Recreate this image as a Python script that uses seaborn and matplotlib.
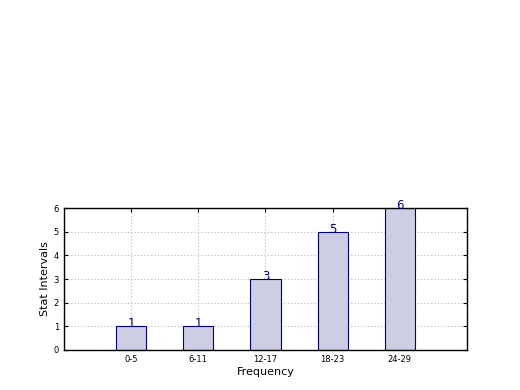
import matplotlib
matplotlib.use("Agg")
import matplotlib.pyplot as plt
import seaborn as sns
import pandas as pd

INTERVALS = ["0-5", "6-11", "12-17", "18-23", "24-29"]
COUNTS = [1, 1, 3, 5, 6]

BAR_FACE = "#cdcde3"
BAR_EDGE = "#000080"


def main():
    sns.set_style("ticks")
    plt.rcParams["font.family"] = ["DejaVu Sans"]
    plt.rcParams["text.color"] = "black"
    plt.rcParams["axes.labelcolor"] = "black"
    plt.rcParams["xtick.color"] = "black"
    plt.rcParams["ytick.color"] = "black"

    df = pd.DataFrame({"interval": INTERVALS, "count": COUNTS})

    fig = plt.figure(figsize=(5.2, 3.9), dpi=100)
    ax = fig.add_axes([0.123, 0.1026, 0.775, 0.364])

    sns.barplot(data=df, x="interval", y="count", width=0.45, color=BAR_FACE,
                saturation=1, edgecolor=BAR_EDGE, linewidth=0.8, ax=ax, zorder=2)

    for i, v in enumerate(df["count"]):
        ax.text(i, v - 0.04, str(v), ha="center", va="baseline", color=BAR_EDGE,
                fontsize=8.5, zorder=3)

    ax.set_xlim(-1, 5)
    ax.set_ylim(0, 6)
    ax.set_yticks(range(0, 7))
    ax.grid(True, linestyle=(0, (1, 2)), color="#b8b8b8", linewidth=0.8, zorder=0)
    ax.set_axisbelow(True)
    ax.tick_params(direction="in", labelsize=6, length=3, top=True, right=True)
    for spine in ax.spines.values():
        spine.set_visible(True)
        spine.set_color("black")
        spine.set_linewidth(1.0)

    ax.set_xlabel("Frequency", fontsize=8, labelpad=2)
    ax.set_ylabel("Stat Intervals", fontsize=8, labelpad=3)

    fig.savefig("out.png", dpi=100)


if __name__ == "__main__":
    main()
